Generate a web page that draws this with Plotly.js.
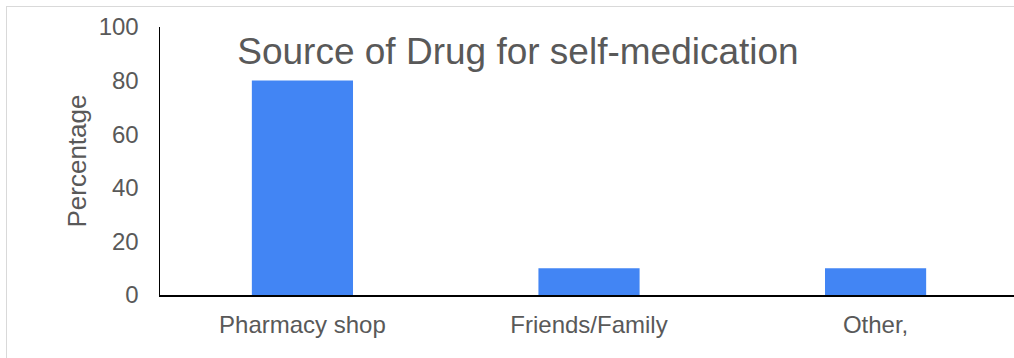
<!DOCTYPE html>
<html>
<head>
<meta charset="utf-8">
<script src="https://cdn.plot.ly/plotly-3.0.1.min.js"></script>
<style>
  html, body { margin: 0; padding: 0; background: #fff; overflow: hidden; }
  #wrap { position: relative; width: 1014px; height: 358px; overflow: hidden; }
  #chart { position: absolute; left: 0; top: 0; width: 1014px; height: 358px; }
  #frame { position: absolute; left: 6px; top: 6px; width: 1020px; height: 370px;
           border: 1.5px solid #d9d9d9; pointer-events: none; box-sizing: border-box; }
</style>
</head>
<body>
<div id="wrap">
  <div id="chart"></div>
  <div id="frame"></div>
</div>
<script>
const categories = ["Pharmacy shop", "Friends/Family", "Other,"];
const percentages = [80, 10, 10];
const yTickValues = [0, 20, 40, 60, 80, 100];
const chartTitle = "Source of Drug for self-medication";
const yTitle = "Percentage";

const font = "Liberation Sans, Arial, sans-serif";
const textColor = "#595959";

const trace = {
  type: "bar",
  x: categories,
  y: percentages,
  width: 0.353,
  marker: { color: "#4285F4", line: { width: 0 } },
  hoverinfo: "none"
};

const layout = {
  width: 1014,
  height: 358,
  margin: { l: 160, r: 0, t: 27, b: 63, pad: 0 },
  paper_bgcolor: "#ffffff",
  plot_bgcolor: "#ffffff",
  showlegend: false,
  font: { family: font, color: textColor, size: 24 },
  title: {
    text: chartTitle,
    font: { family: font, size: 37, color: textColor },
    x: 518 / 1014,
    xref: "container",
    xanchor: "center",
    y: 1 - 51 / 358,
    yref: "container",
    yanchor: "middle"
  },
  xaxis: {
    type: "category",
    range: [-0.497, 2.483],
    showgrid: false,
    zeroline: false,
    showline: true,
    linecolor: "#000000",
    linewidth: 1.5,
    ticks: "",
    ticklabelstandoff: 8,
    tickfont: { family: font, size: 24, color: textColor },
    fixedrange: true
  },
  yaxis: {
    range: [0, 100],
    tickvals: yTickValues,
    ticktext: yTickValues.map(String),
    showgrid: false,
    zeroline: false,
    showline: true,
    linecolor: "#000000",
    linewidth: 1.5,
    ticks: "",
    ticklabelstandoff: 15,
    tickfont: { family: font, size: 24, color: textColor },
    title: { text: yTitle, font: { family: font, size: 26, color: textColor }, standoff: 4 },
    automargin: false,
    fixedrange: true
  }
};

Plotly.newPlot("chart", [trace], layout, { staticPlot: true, displayModeBar: false });
</script>
</body>
</html>
